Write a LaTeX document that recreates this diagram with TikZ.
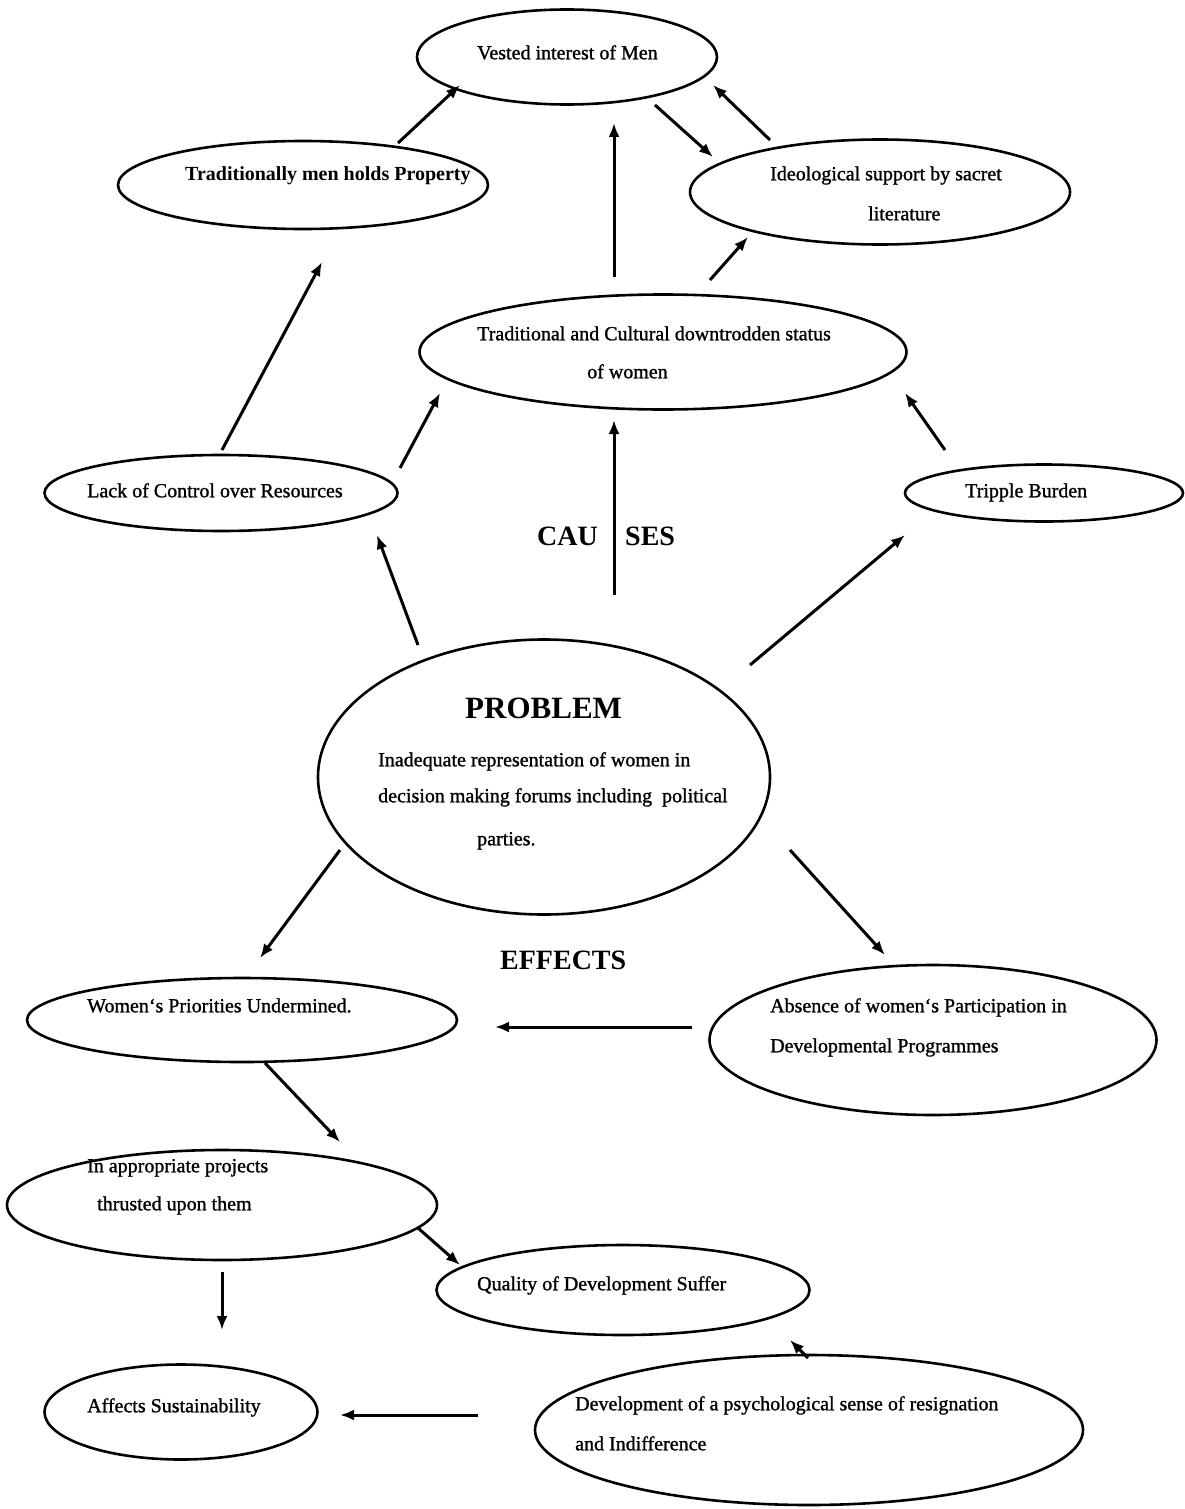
\documentclass[tikz,border=0pt]{standalone}
\usepackage{fontspec}
\setmainfont[FakeBold=1.2]{Liberation Serif}
\newfontfamily\boldserif{Liberation Serif}
\usetikzlibrary{shapes.geometric,arrows.meta}
\begin{document}
\begin{tikzpicture}[x=1pt,y=-1pt,
  ell/.style={draw, ellipse, line width=2.6pt, inner sep=0pt},
  txt/.style={anchor=mid west, inner sep=0pt, font=\fontsize{20}{24}\selectfont},
  head/.style={anchor=mid west, inner sep=0pt, font=\boldserif\fontsize{28}{32}\selectfont\bfseries},
  arr/.style={line width=3pt, -{Latex[length=14pt,width=11pt]}}]
\useasboundingbox (0,0) rectangle (1185,1509);
% ellipses
\node[ell, minimum width=300pt, minimum height=95pt] (vest) at (567,57) {};
\node[ell, minimum width=370pt, minimum height=88pt] (tprop) at (303,185) {};
\node[ell, minimum width=380pt, minimum height=105pt] (ideo) at (880,192) {};
\node[ell, minimum width=487pt, minimum height=115pt] (trad) at (663,352) {};
\node[ell, minimum width=353pt, minimum height=76pt] (lack) at (221,493) {};
\node[ell, minimum width=278pt, minimum height=57pt] (trip) at (1044,493) {};
\node[ell, minimum width=452pt, minimum height=275pt] (prob) at (544,777) {};
\node[ell, minimum width=430pt, minimum height=84pt] (wom) at (242,1020) {};
\node[ell, minimum width=447pt, minimum height=150pt] (abs) at (933,1040) {};
\node[ell, minimum width=430pt, minimum height=110pt] (inapp) at (222,1205) {};
\node[ell, minimum width=373pt, minimum height=90pt] (qual) at (623,1290) {};
\node[ell, minimum width=273pt, minimum height=95pt] (aff) at (181,1412) {};
\node[ell, minimum width=548pt, minimum height=150pt] (psych) at (809,1430) {};
% texts
\node[txt] (tv) at (477,57) {Vested interest of Men};
\node[txt, font=\boldserif\fontsize{20}{24}\selectfont\bfseries] (ttp) at (185,178) {Traditionally men holds Property};
\node[txt] (ti1) at (770,178) {Ideological support by sacret};
\node[txt] (ti2) at (868,218) {literature};
\node[txt] (ttr1) at (477,338) {Traditional and Cultural downtrodden status};
\node[txt] (ttr2) at (587,376) {of women};
\node[txt] (tl) at (87,495) {Lack of Control over Resources};
\node[txt] (ttb) at (965,495) {Tripple Burden};
\node[head] (cau) at (537,543) {CAU};
\node[head] (ses) at (625,543) {SES};
\node[head, font=\boldserif\fontsize{31}{36}\selectfont\bfseries] (tpb) at (465,716) {PROBLEM};
\node[txt] (tp1) at (378,764) {Inadequate representation of women in};
\node[txt] (tp2) at (378,800) {decision making forums including\ \ political};
\node[txt] (tp3) at (477,843) {parties.};
\node[head] (eff) at (500,967) {EFFECTS};
\node[txt] (tw) at (87,1010) {Women`s Priorities Undermined.};
\node[txt] (ta1) at (770,1010) {Absence of women`s Participation in};
\node[txt] (ta2) at (770,1050) {Developmental Programmes};
\node[txt] (tn1) at (87,1170) {In appropriate projects};
\node[txt] (tn2) at (97,1208) {thrusted upon them};
\node[txt] (tq) at (477,1288) {Quality of Development Suffer};
\node[txt] (taf) at (87,1410) {Affects Sustainability};
\node[txt] (ts1) at (575,1408) {Development of a psychological sense of resignation};
\node[txt] (ts2) at (575,1448) {and Indifference};
% arrows
\draw[arr] ([shift={(95,-42)}]tprop.center) -- ([shift={(-107,28)}]vest.center);
\draw[arr] ([shift={(88,48)}]vest.center) -- ([shift={(-167,-35)}]ideo.center);
\draw[arr] ([shift={(-110,-52)}]ideo.center) -- ([shift={(146,28)}]vest.center);
\draw[arr] ([shift={(-49,-75)}]trad.center) -- ([shift={(47,66)}]vest.center);
\draw[arr] ([shift={(47,-72)}]trad.center) -- ([shift={(-132,45)}]ideo.center);
\draw[arr] ([shift={(1,-43)}]lack.center) -- ([shift={(19,77)}]tprop.center);
\draw[arr] ([shift={(179,-25)}]lack.center) -- ([shift={(-223,41)}]trad.center);
\draw[arr] ([shift={(70,-182)}]prob.center) -- ([shift={(-49,68)}]trad.center);
\draw[arr] ([shift={(-99,-43)}]trip.center) -- ([shift={(242,41)}]trad.center);
\draw[arr] ([shift={(-126,-132)}]prob.center) -- ([shift={(156,42)}]lack.center);
\draw[arr] ([shift={(206,-112)}]prob.center) -- ([shift={(-139,42)}]trip.center);
\draw[arr] ([shift={(-204,73)}]prob.center) -- ([shift={(18,-62)}]wom.center);
\draw[arr] ([shift={(246,73)}]prob.center) -- ([shift={(-48,-85)}]abs.center);
\draw[arr] ([shift={(-241,-13)}]abs.center) -- ([shift={(253,7)}]wom.center);
\draw[arr] ([shift={(23,43)}]wom.center) -- ([shift={(118,-63)}]inapp.center);
\draw[arr] ([shift={(196,23)}]inapp.center) -- ([shift={(-163,-25)}]qual.center);
\draw[arr] ([shift={(0,67)}]inapp.center) -- ([shift={(41,-82)}]aff.center);
\draw[arr] ([shift={(-1,-72)}]psych.center) -- ([shift={(167,50)}]qual.center);
\draw[arr] ([shift={(-331,-15)}]psych.center) -- ([shift={(159,3)}]aff.center);
\end{tikzpicture}
\end{document}
